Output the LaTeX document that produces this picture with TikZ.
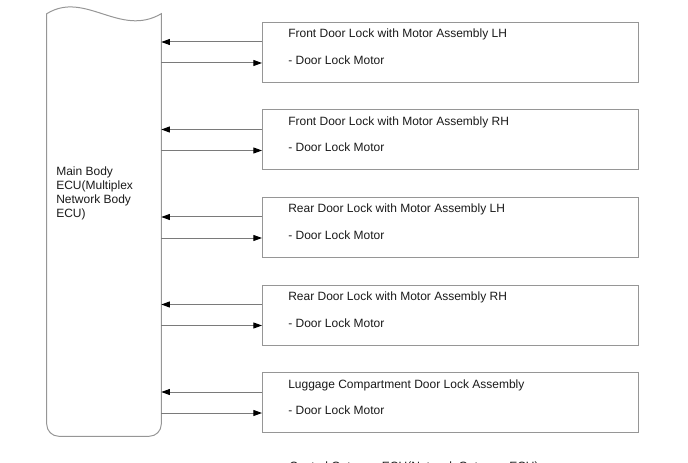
\documentclass[tikz,border=0pt]{standalone}
\usepackage{fontspec}
\setmainfont{Liberation Sans}
\usetikzlibrary{arrows.meta}
\definecolor{wiregray}{HTML}{7A7A7A}
\definecolor{framegray}{HTML}{969696}
\definecolor{labelink}{HTML}{1A1A1A}
\newcommand{\LabelFont}{\fontsize{9}{10.5}\selectfont}
\newcommand{\LockUnit}[3]{%
  \node[unitbox] (#1) at (262,#2) {};
  \node[unitlabel] (#1-title) at (288,{#2+16}) {#3};
  \node[unitlabel] (#1-motor) at (288,{#2+42.5}) {- Door Lock Motor};
  \coordinate (#1-rx) at ([yshift=-15pt]#1.north west);
  \coordinate (#1-tx) at ([yshift=-30.75pt]#1.north west);
  \draw[signal] (#1-rx) -- (ecu.east |- #1-rx);
  \draw[signal] (ecu.east |- #1-tx) -- (#1-tx);
}

\begin{document}
\begin{tikzpicture}[x=.75pt,y=-.75pt,text=labelink,
  unitbox/.style={draw=framegray,line width=.75pt,anchor=north west,inner sep=0pt,
    minimum width=282pt,minimum height=45pt},
  unitlabel/.style={anchor=base west,inner sep=0pt,font=\LabelFont},
  signal/.style={draw=wiregray,line width=.75pt,-{Triangle[length=6.5pt,width=4.5pt,color=black]}},
  ecubody/.style={inner sep=0pt,minimum width=85.5pt,minimum height=316.5pt}]
  \useasboundingbox (0,0) rectangle (688,463);
  % main body ECU
  \node[ecubody] (ecu) at (104,225) {};
  \draw[framegray,line width=.75pt] (ecu.north west) .. controls (85,-10) and (120,38) .. (ecu.north east)
    -- ([yshift=9pt]ecu.south east) arc[start angle=0,end angle=-90,radius=9pt]
    -- ([xshift=9pt]ecu.south west) arc[start angle=270,end angle=180,radius=9pt] -- cycle;
  \node[anchor=north west,align=left,inner sep=0pt,font=\LabelFont] (ecu-name) at (56,166.5)
    {Main Body\\ECU(Multiplex\\Network Body\\ECU)};
  % door lock units
  \LockUnit{fl}{22}{Front Door Lock with Motor Assembly LH}
  \LockUnit{fr}{109.5}{Front Door Lock with Motor Assembly RH}
  \LockUnit{rl}{197}{Rear Door Lock with Motor Assembly LH}
  \LockUnit{rr}{284.5}{Rear Door Lock with Motor Assembly RH}
  \LockUnit{lg}{372}{Luggage Compartment Door Lock Assembly}
  \node[unitlabel] (gateway) at (289,470.5) {Central Gateway ECU(Network Gateway ECU)};
\end{tikzpicture}
\end{document}
